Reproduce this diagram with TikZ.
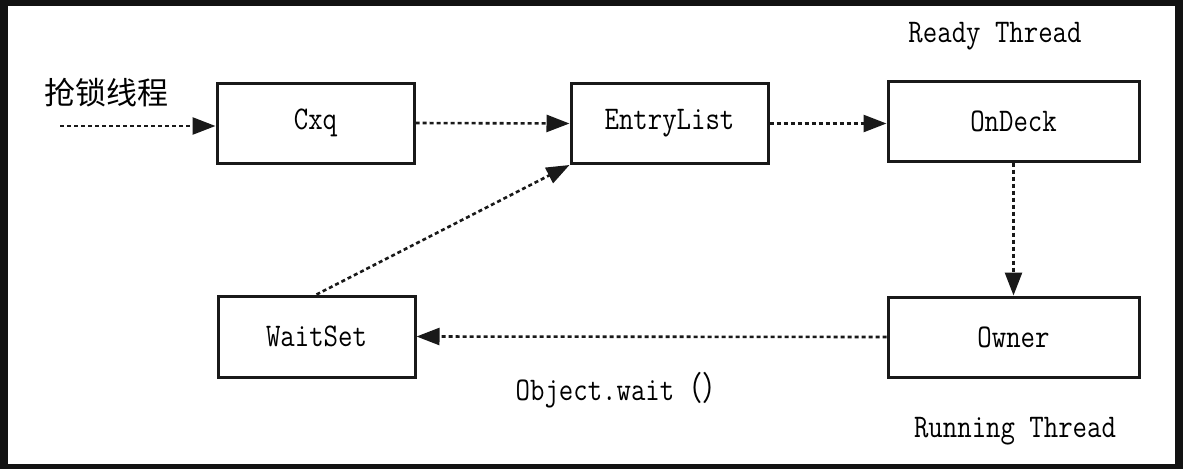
\documentclass[tikz,border=0pt]{standalone}
\usepackage{fontspec}
\usepackage{graphicx}
\newfontfamily\cjk{Noto Sans CJK SC}
\usetikzlibrary{arrows.meta}
\definecolor{frame}{HTML}{121212}
\newcommand\talltxt[1]{\scalebox{1}[1.18]{#1}}
\tikzset{
  box/.style={draw=black!90, line width=3pt, rectangle, minimum height=80pt, inner sep=0pt, font=\fontsize{28}{30}\selectfont\ttfamily},
  flow/.style={draw=black!90, line width=2.6pt, dash pattern=on 4pt off 3pt, -{Triangle[length=23pt,width=17pt]}},
  lbl/.style={inner sep=0pt, font=\fontsize{28}{30}\selectfont\ttfamily},
}
\begin{document}
\begin{tikzpicture}[x=1pt,y=-1pt]
\fill[frame] (0,0) rectangle (1183,469);
\fill[white] (8,6) rectangle (1175,464);
\useasboundingbox (0,0) rectangle (1183,469);
\node[box, minimum width=197pt] (cxq) at (315.5,123) {\talltxt{Cxq}};
\node[box, minimum width=197pt] (entry) at (669.5,123.5) {\talltxt{EntryList}};
\node[box, minimum width=251pt] (ondeck) at (1013.5,121) {\talltxt{OnDeck}};
\node[box, minimum width=197pt, minimum height=81pt] (waitset) at (316.5,336.5) {\talltxt{WaitSet}};
\node[box, minimum width=251pt] (owner) at (1013.5,337) {\talltxt{Owner}};
\node[inner sep=0pt, font=\fontsize{31}{33}\selectfont\cjk] (grab) at (106,93) {抢锁线程};
\node[lbl] (ready) at (995,36) {\talltxt{Ready Thread}};
\node[lbl] (running) at (1015,431) {\talltxt{Running Thread}};
\node[lbl] (wait) at (623,390) {\talltxt{Object.wait{\cjk （）}}};
\coordinate (start) at (60,126);
\draw[flow] (start) -- (start -| cxq.west);
\draw[flow] (cxq.east) -- (entry.west);
\draw[flow] (entry.east) -- (entry.east -| ondeck.west);
\draw[flow] (ondeck.south) -- (owner.north);
\draw[flow] (owner.west) -- (waitset.east);
\draw[flow] (waitset.north) -- (entry.south west);
\end{tikzpicture}
\end{document}
